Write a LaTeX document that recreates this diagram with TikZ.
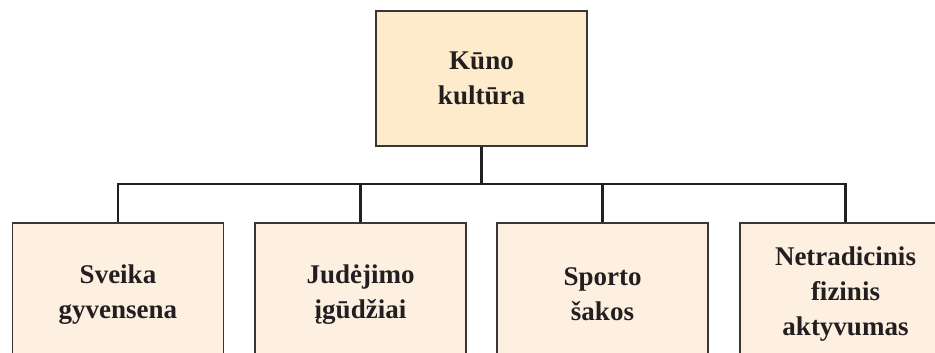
\documentclass[tikz,border=0pt]{standalone}
\usepackage{fontspec}
\setmainfont{Liberation Serif}
\definecolor{topfill}{HTML}{FDEBCC}
\definecolor{subfill}{HTML}{FEF0E1}
\definecolor{edge}{HTML}{3A3536}
\definecolor{conncol}{HTML}{231F20}
\begin{document}
\begin{tikzpicture}[x=1pt,y=-1pt,
  box/.style={draw=edge, line width=1.4pt, rectangle, align=center, inner sep=0pt,
    font=\bfseries\fontsize{27}{35}\selectfont, text=conncol},
  topbox/.style={box, fill=topfill, minimum width=211pt, minimum height=135pt},
  subbox/.style={box, fill=subfill, minimum width=211pt, minimum height=143pt},
  conn/.style={draw=conncol, line width=2.6pt, line cap=butt}]
\useasboundingbox (0,0) rectangle (935,353);
\clip (0,0) rectangle (935,353);
\node[topbox] (top) at (481.5,78.5) {Kūno\\kultūra};
\node[subbox] (b1) at (118,294.5) {Sveika\\gyvensena};
\node[subbox] (b2) at (360.5,294.5) {Judėjimo\\įgūdžiai};
\node[subbox] (b3) at (602.5,294.5) {Sporto\\šakos};
\node[subbox] (b4) at (845.5,294.5) {Netradicinis\\fizinis\\aktyvumas};
\coordinate (bus) at (481.5,184);
\draw[conn] (top.south) -- (bus);
\draw[conn] (b1.north) -- (b1.north |- bus) -- (b4.north |- bus) -- (b4.north);
\draw[conn] (b2.north) -- (b2.north |- bus);
\draw[conn] (b3.north) -- (b3.north |- bus);
\end{tikzpicture}
\end{document}
